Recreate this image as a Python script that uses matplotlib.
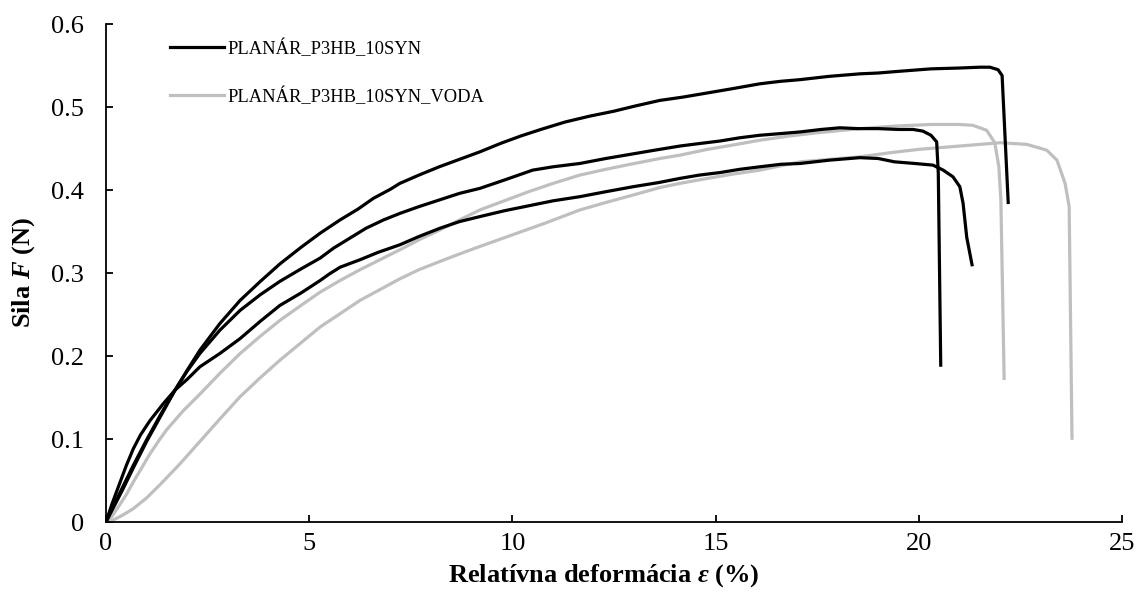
import matplotlib
matplotlib.use('Agg')
import matplotlib.pyplot as plt

plt.rcParams.update({
    'font.family': ['Liberation Serif', 'DejaVu Serif'],
    'font.size': 19,
    'mathtext.fontset': 'custom',
    'mathtext.rm': 'Liberation Serif:bold',
    'mathtext.it': 'Liberation Serif:italic:bold',
    'mathtext.bf': 'Liberation Serif:bold',
})

# strain (%) / force (N), three dry + two wet samples
a_x = [0, 0.2, 0.4, 0.67, 1.0, 1.35, 1.7, 2.0, 2.31, 2.8, 3.3, 3.8, 4.28, 4.8, 5.27, 5.76,
       6.2, 6.58, 7.0, 7.23, 7.7, 8.2, 8.7, 9.2, 9.7, 10.2, 10.7, 11.3, 11.9, 12.5, 13.0,
       13.63, 14.2, 14.8, 15.4, 16.09, 16.6, 17.08, 17.8, 18.55, 19.0, 19.5, 20.3, 21.0,
       21.5, 21.75, 21.95, 22.05, 22.2]
a_y = [0, 0.021, 0.041, 0.068, 0.099, 0.130, 0.159, 0.183, 0.207, 0.239, 0.267, 0.290, 0.311,
       0.331, 0.348, 0.364, 0.377, 0.390, 0.401, 0.408, 0.418, 0.428, 0.437, 0.446, 0.456,
       0.465, 0.473, 0.482, 0.489, 0.495, 0.501, 0.508, 0.512, 0.517, 0.522, 0.528, 0.531,
       0.533, 0.537, 0.540, 0.541, 0.543, 0.546, 0.547, 0.548, 0.548, 0.545, 0.538, 0.385]

b_x = [0, 0.2, 0.4, 0.67, 1.0, 1.35, 1.7, 2.0, 2.31, 2.8, 3.3, 3.8, 4.28, 4.8, 5.27, 5.6,
       6.0, 6.4, 6.83, 7.24, 7.7, 8.2, 8.7, 9.2, 9.8, 10.5, 11.0, 11.66, 12.3, 12.9, 13.5,
       14.12, 14.6, 15.1, 15.6, 16.09, 16.6, 17.08, 17.6, 18.06, 18.5, 19.0, 19.5, 19.86,
       20.1, 20.3, 20.44, 20.48, 20.54]
b_y = [0, 0.019, 0.038, 0.065, 0.097, 0.128, 0.159, 0.182, 0.203, 0.231, 0.255, 0.274, 0.290,
       0.305, 0.318, 0.330, 0.342, 0.354, 0.364, 0.372, 0.380, 0.388, 0.396, 0.402, 0.412,
       0.424, 0.428, 0.432, 0.438, 0.443, 0.448, 0.453, 0.456, 0.459, 0.463, 0.466, 0.468,
       0.470, 0.473, 0.475, 0.474, 0.474, 0.473, 0.473, 0.471, 0.466, 0.458, 0.420, 0.189]

c_x = [0, 0.15, 0.34, 0.5, 0.67, 0.85, 1.08, 1.4, 1.7, 2.0, 2.31, 2.8, 3.3, 3.8, 4.28, 4.8,
       5.27, 5.5, 5.76, 6.25, 6.7, 7.23, 7.7, 8.22, 8.7, 9.2, 9.8, 10.5, 11.0, 11.66, 12.3,
       12.97, 13.6, 14.12, 14.6, 15.1, 15.6, 16.09, 16.6, 17.08, 17.8, 18.55, 19.0, 19.4,
       19.9, 20.35, 20.6, 20.84, 21.01, 21.09, 21.18, 21.31]
c_y = [0, 0.022, 0.047, 0.068, 0.088, 0.105, 0.122, 0.142, 0.159, 0.172, 0.187, 0.203, 0.221,
       0.242, 0.261, 0.276, 0.291, 0.299, 0.307, 0.316, 0.325, 0.334, 0.344, 0.354, 0.362,
       0.368, 0.375, 0.382, 0.387, 0.392, 0.398, 0.404, 0.409, 0.414, 0.418, 0.421, 0.425,
       0.428, 0.431, 0.432, 0.436, 0.439, 0.438, 0.434, 0.432, 0.430, 0.424, 0.416, 0.404,
       0.384, 0.343, 0.310]

d_x = [0, 0.15, 0.3, 0.5, 0.67, 0.9, 1.08, 1.3, 1.49, 1.9, 2.31, 2.8, 3.3, 3.8, 4.28, 4.8,
       5.27, 5.76, 6.25, 6.74, 7.23, 7.7, 8.22, 8.7, 9.2, 9.8, 10.4, 11.0, 11.66, 12.3, 12.9,
       13.63, 14.12, 14.8, 15.4, 16.09, 16.8, 17.5, 18.55, 19.4, 20.3, 21.0, 21.33, 21.67,
       21.87, 21.97, 22.02, 22.1]
d_y = [0, 0.007, 0.018, 0.033, 0.048, 0.067, 0.082, 0.098, 0.111, 0.134, 0.154, 0.179, 0.203,
       0.224, 0.243, 0.261, 0.277, 0.291, 0.304, 0.316, 0.328, 0.340, 0.352, 0.364, 0.376,
       0.387, 0.398, 0.408, 0.418, 0.425, 0.431, 0.438, 0.442, 0.449, 0.454, 0.460, 0.465,
       0.469, 0.474, 0.477, 0.479, 0.479, 0.478, 0.472, 0.457, 0.428, 0.388, 0.173]

e_x = [0, 0.2, 0.4, 0.67, 1.0, 1.33, 1.8, 2.31, 2.8, 3.3, 3.8, 4.28, 4.8, 5.27, 5.76, 6.25,
       6.74, 7.23, 7.7, 8.22, 8.7, 9.2, 10.0, 10.8, 11.66, 12.3, 12.97, 13.63, 14.12, 14.8,
       15.4, 16.09, 17.08, 18.55, 19.3, 20.0, 21.0, 22.0, 22.66, 23.15, 23.4, 23.6, 23.7,
       23.77]
e_y = [0, 0.003, 0.008, 0.016, 0.029, 0.045, 0.069, 0.097, 0.124, 0.151, 0.174, 0.195, 0.216,
       0.235, 0.251, 0.267, 0.280, 0.293, 0.304, 0.314, 0.323, 0.332, 0.346, 0.360, 0.376,
       0.385, 0.394, 0.403, 0.408, 0.414, 0.419, 0.424, 0.434, 0.440, 0.445, 0.449, 0.453,
       0.457, 0.455, 0.448, 0.436, 0.408, 0.380, 0.101]

dry_label = 'PLANÁR_P3HB_10SYN'
wet_label = 'PLANÁR_P3HB_10SYN_VODA'
x_ticks = [0, 5, 10, 15, 20, 25]
y_ticks = [0, 0.1, 0.2, 0.3, 0.4, 0.5, 0.6]

fig = plt.figure(figsize=(11.37, 6.01), dpi=100)
ax = fig.add_axes([0.0932, 0.1314, 0.8936, 0.8286])

gray = '#bfbfbf'
lw = 2.3
ax.plot(d_x, d_y, color=gray, lw=lw, solid_joinstyle='round')
ax.plot(e_x, e_y, color=gray, lw=lw, solid_joinstyle='round')
ax.plot(a_x, a_y, color='black', lw=lw, label=dry_label, solid_joinstyle='round')
ax.plot(b_x, b_y, color='black', lw=lw, solid_joinstyle='round')
ax.plot(c_x, c_y, color='black', lw=lw, solid_joinstyle='round')
ax.plot([], [], color=gray, lw=lw, label=wet_label)

ax.set_xlim(0, 25)
ax.set_ylim(0, 0.6)
ax.set_xticks(x_ticks)
ax.set_xticklabels([str(t) for t in x_ticks])
ax.set_yticks(y_ticks)
ax.set_yticklabels(['0'] + [f'{t:.1f}' for t in y_ticks[1:]])
ax.spines['top'].set_visible(False)
ax.spines['right'].set_visible(False)
ax.spines['left'].set_linewidth(1.3)
ax.spines['bottom'].set_linewidth(1.3)
ax.tick_params(direction='in', length=5, width=1.3, labelsize=19)
ax.tick_params(axis='y', pad=16)
ax.tick_params(axis='x', pad=8)

ax.set_xlabel(r'Relatívna deformácia $\varepsilon$ (%)', fontsize=19, fontweight='bold')
ax.set_ylabel(r'Sila $F$ (N)', fontsize=19, fontweight='bold')
ax.xaxis.set_label_coords(0.49, -0.08)
ax.yaxis.set_label_coords(-0.068, 0.5)

ax.legend(loc='upper left', bbox_to_anchor=(0.063, 0.969), frameon=False, fontsize=13.3,
          handlelength=2.95, handletextpad=0.18, labelspacing=1.6, borderpad=0,
          borderaxespad=0)

fig.savefig('out.png', dpi=100)
